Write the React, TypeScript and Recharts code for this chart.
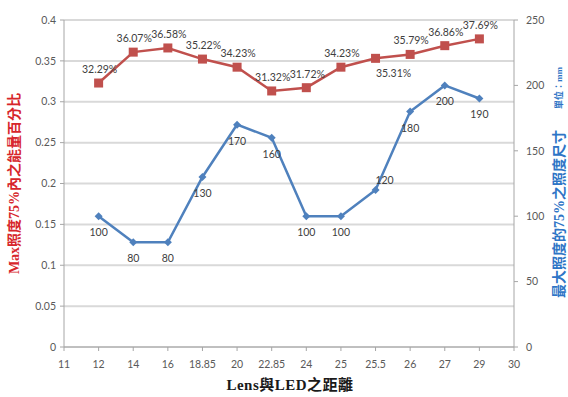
import { LineChart, Line, XAxis, YAxis, CartesianGrid, LabelList } from "recharts";

// distance between lens and LED (category axis, first/last are only axis ends)
const distances = ["11", "12", "14", "16", "18.85", "20", "22.85", "24", "25", "25.5", "26", "27", "29", "30"];
// energy share inside 75% of max illuminance
const energyShare = [null, 0.3229, 0.3607, 0.3658, 0.3522, 0.3423, 0.3132, 0.3172, 0.3423, 0.3531, 0.3579, 0.3686, 0.3769, null];
// spot size at 75% of max illuminance (mm)
const spotSize = [null, 100, 80, 80, 130, 170, 160, 100, 100, 120, 180, 200, 190, null];

const leftTicks = [0, 0.05, 0.1, 0.15, 0.2, 0.25, 0.3, 0.35, 0.4];
const rightTicks = [0, 50, 100, 150, 200, 250];

const data = distances.map((d, i) => ({ d, share: energyShare[i], size: spotSize[i] }));

const RED = "#c0504d";
const BLUE = "#4f81bd";
const GRID = "#d9d9d9";
const AXIS = "#a6a6a6";
const TICK_FONT = "Lato, 'Open Sans', sans-serif";
const TITLE_FONT = "'Liberation Serif', 'Noto Sans CJK TC', serif";

const tickStyle = { fill: "#595959", fontSize: 10.5, fontFamily: TICK_FONT };

function SquareDot(props: any) {
  const { cx, cy, value, index } = props;
  if (value == null || cy == null) return <g key={`s${index}`} />;
  return <rect key={`s${index}`} x={cx - 4.5} y={cy - 4.5} width={9} height={9} fill={RED} />;
}

function DiamondDot(props: any) {
  const { cx, cy, value, index } = props;
  if (value == null || cy == null) return <g key={`d${index}`} />;
  const r = 4;
  return (
    <path
      key={`d${index}`}
      d={`M${cx},${cy - r}L${cx + r},${cy}L${cx},${cy + r}L${cx - r},${cy}Z`}
      fill={BLUE}
    />
  );
}

// labels sit above the red points, except the one at 25.5 which drops below
function ShareLabel(props: any) {
  const { x, y, value, index } = props;
  if (value == null) return null;
  const below = distances[index] === "25.5";
  return (
    <text
      x={x + (below ? 18 : 1)}
      y={y + (below ? 15 : -14)}
      textAnchor="middle"
      dominantBaseline="central"
      fill="#404040"
      fontSize={10.5}
      fontFamily={TICK_FONT}
    >
      {(value * 100).toFixed(2)}%
    </text>
  );
}

// labels sit below the blue points, except 25.5 which goes above-right
function SizeLabel(props: any) {
  const { x, y, value, index } = props;
  if (value == null) return null;
  const above = distances[index] === "25.5";
  return (
    <text
      x={x + (above ? 9 : 0)}
      y={y + (above ? -10 : 16)}
      textAnchor="middle"
      dominantBaseline="central"
      fill="#404040"
      fontSize={10.5}
      fontFamily={TICK_FONT}
    >
      {value}
    </text>
  );
}

function LeftTitle(props: any) {
  const vb = props.viewBox ?? { x: 0, y: 20, width: 64, height: 327 };
  const cx = vb.x + 14;
  const cy = vb.y + vb.height / 2;
  return (
    <text
      x={cx}
      y={cy}
      transform={`rotate(-90 ${cx} ${cy})`}
      textAnchor="middle"
      dominantBaseline="central"
      fill="#d7262b"
      fontSize={14}
      fontWeight={600}
      fontFamily={TITLE_FONT}
    >
      Max照度75%內之能量百分比
    </text>
  );
}

function RightTitle(props: any) {
  const vb = props.viewBox ?? { x: 514, y: 20, width: 54, height: 327 };
  const cx = vb.x + 45;
  const mainY = vb.y + 194;
  const unitY = vb.y + 68;
  return (
    <g>
      <text
        x={cx}
        y={mainY}
        transform={`rotate(-90 ${cx} ${mainY})`}
        textAnchor="middle"
        dominantBaseline="central"
        fill="#2e75c6"
        fontSize={14}
        fontWeight={600}
        fontFamily={TITLE_FONT}
      >
        最大照度的75%之照度尺寸
      </text>
      <text
        x={cx}
        y={unitY}
        transform={`rotate(-90 ${cx} ${unitY})`}
        textAnchor="middle"
        dominantBaseline="central"
        fill="#2e75c6"
        fontSize={9}
        fontWeight={600}
        fontFamily={TITLE_FONT}
      >
        單位：mm
      </text>
    </g>
  );
}

function BottomTitle(props: any) {
  const vb = props.viewBox ?? { x: 64, y: 347, width: 450, height: 30 };
  return (
    <text
      x={vb.x + vb.width / 2 + 1}
      y={vb.y + 38}
      textAnchor="middle"
      dominantBaseline="central"
      fill="#1a1a1a"
      fontSize={15}
      fontWeight="bold"
      letterSpacing={0.5}
      fontFamily={TITLE_FONT}
    >
      Lens與LED之距離
    </text>
  );
}

export default function App() {
  return (
    <div style={{ position: "absolute", left: 0, top: 0, background: "#fff" }}>
      <LineChart width={568} height={397} data={data} margin={{ top: 20, right: 0, bottom: 20, left: 0 }}>
        <CartesianGrid yAxisId="left" vertical={false} stroke={GRID} strokeWidth={2} />
        <XAxis
          dataKey="d"
          interval={0}
          tick={tickStyle}
          tickLine={{ stroke: AXIS }}
          axisLine={{ stroke: AXIS }}
          tickSize={4}
          tickMargin={10}
          height={30}
          label={(p: any) => <BottomTitle {...p} />}
        />
        <YAxis
          yAxisId="left"
          domain={[0, 0.4]}
          ticks={leftTicks}
          width={64}
          tick={tickStyle}
          tickLine={{ stroke: AXIS }}
          axisLine={{ stroke: AXIS }}
          tickSize={4}
          tickMargin={4}
          label={(p: any) => <LeftTitle {...p} />}
        />
        <YAxis
          yAxisId="right"
          orientation="right"
          domain={[0, 250]}
          ticks={rightTicks}
          width={54}
          tick={{ ...tickStyle, textAnchor: "start" }}
          tickLine={{ stroke: AXIS }}
          axisLine={{ stroke: AXIS }}
          tickSize={4}
          tickMargin={8}
          label={(p: any) => <RightTitle {...p} />}
        />
        <Line
          yAxisId="left"
          dataKey="share"
          stroke={RED}
          strokeWidth={2.5}
          dot={SquareDot}
          activeDot={false}
          isAnimationActive={false}
        >
          <LabelList dataKey="share" content={ShareLabel} />
        </Line>
        <Line
          yAxisId="right"
          dataKey="size"
          stroke={BLUE}
          strokeWidth={2.5}
          dot={DiamondDot}
          activeDot={false}
          isAnimationActive={false}
        >
          <LabelList dataKey="size" content={SizeLabel} />
        </Line>
      </LineChart>
    </div>
  );
}
